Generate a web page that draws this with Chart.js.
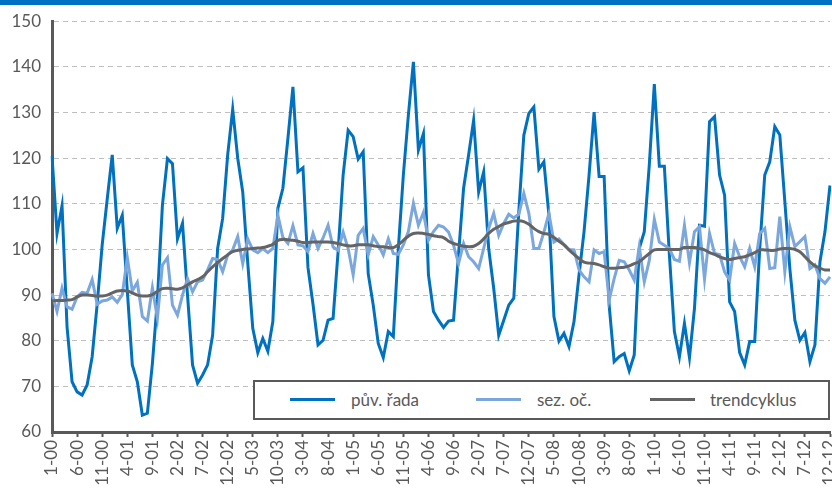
<!DOCTYPE html>
<html>
<head>
<meta charset="utf-8">
<script src="https://cdn.jsdelivr.net/npm/chart.js@4"></script>
<style>
    html, body { margin: 0; padding: 0; background: #fff; overflow: hidden; }
    #wrap { position: relative; width: 832px; height: 491px; }
    #wrap canvas { position: absolute; left: 0; top: 0; }
    #bar { position: absolute; left: 0; top: 0; width: 832px; height: 5px; background: #0070c0; }
    #legend {
        position: absolute; left: 253px; top: 380px; width: 573px; height: 36px;
        border: 2px solid #595959; background: #fff;
        font: 17px Lato, "Open Sans", sans-serif; color: #595959;
    }
    #legend .ln { position: absolute; top: 16px; width: 45px; height: 3px; }
    #legend .tx { position: absolute; top: 0; line-height: 36px; white-space: nowrap; }
</style>
</head>
<body>
<div id="wrap">
    <canvas id="LineChart" width="832" height="491"></canvas>
    <div id="bar"></div>
    <div id="legend">
        <span class="ln" style="left:35px;background:#0070c0"></span>
        <span class="tx" style="left:96px">pův. řada</span>
        <span class="ln" style="left:221px;background:#7ba7dd"></span>
        <span class="tx" style="left:282px">sez. oč.</span>
        <span class="ln" style="left:395px;background:#646464"></span>
        <span class="tx" style="left:455px">trendcyklus</span>
    </div>
</div>
<script>
(function () {
    "use strict";

    // Colors
    const dark_blue = "#0070c0";
    const light_blue = "#7ba7dd";
    const trend_gray = "#646464";
    const axis_gray = "#595959";
    const grid_gray = "#bfbfbf";

    // Categories: months 1-00 .. 12-12
    const years = ["00", "01", "02", "03", "04", "05", "06", "07", "08", "09", "10", "11", "12"];
    const months = [1, 2, 3, 4, 5, 6, 7, 8, 9, 10, 11, 12];
    const categories = [];
    years.forEach(function (y) {
        months.forEach(function (m) {
            categories.push(m + "-" + y);
        });
    });

    const yTicks = [60, 70, 80, 90, 100, 110, 120, 130, 140, 150];

    // pův. řada
    const puvRada = [
        120.5, 103.5, 109.6, 83, 71, 68.8, 68.1, 70.3, 76.5, 88, 101, 111,
        120.7, 104.6, 107.5, 91, 74.7, 71, 63.7, 64.1, 75, 89, 109.7, 119.9,
        118.8, 102.3, 105.7, 90, 74.7, 70.7, 72.5, 74.7, 81.2, 100.2, 106.8, 120.7,
        130.7, 120, 112.6, 97, 82.7, 77.4, 80.5, 77.7, 84.2, 109, 113.4, 124.3,
        135.6, 117, 117.9, 96, 88, 79.1, 80.1, 84.5, 84.9, 99.5, 116.3, 126.1,
        124.7, 119.8, 121.4, 94.7, 87.8, 79.4, 76.3, 82, 80.9, 100.2, 116.3, 129.4,
        141.1, 121.8, 125.4, 94.4, 86.4, 84.5, 82.9, 84.3, 84.5, 99, 113.4, 120.7,
        128.3, 112.6, 117, 100.2, 91.5, 81.2, 84.5, 87.8, 89.3, 108.3, 125, 129.8,
        131.2, 117.6, 119.2, 107.5, 85.3, 79.9, 81.6, 78.7, 84.2, 94.4, 103.9, 116.3,
        130.1, 116, 116, 87.8, 75.4, 76.5, 77.2, 73.4, 76.9, 100.2, 103.9, 118.5,
        136.2, 118.2, 118.2, 98.8, 82, 76.5, 83.8, 76.3, 87.1, 105.3, 105.1, 128,
        129.1, 116.3, 111.9, 88.5, 86.4, 77.4, 74.7, 79.8, 79.8, 100.2, 116.3, 119.2,
        126.9, 125.1, 110.5, 95.8, 84.5, 80.1, 81.8, 75.4, 79.1, 97.3, 103.9, 114
    ];

    // sez. oč.
    const sezOc = [
        90.4, 86.4, 91.5, 87.4, 86.9, 89.6, 90.6, 90.4, 93.4, 88, 88.7, 88.9,
        89.6, 88.4, 90.1, 98.2, 90.9, 92.8, 85.3, 84.3, 91.6, 84.9, 96.6, 98.2,
        87.8, 85.6, 90, 93.6, 90.7, 92.9, 93.3, 95.5, 98, 97.8, 95.1, 98.8,
        99.9, 102.8, 96.9, 102.3, 99.9, 99.3, 100.2, 99.3, 100.2, 107.5, 102.6, 101.3,
        105.2, 101, 100.8, 99.5, 103.5, 100.2, 102.5, 105.3, 100.5, 99.8, 103.8, 100.2,
        94.4, 103.1, 104.6, 98.8, 102.8, 101, 98.8, 102.3, 99.1, 98.9, 101, 103.9,
        110.1, 105.3, 108.1, 102, 103.9, 105.3, 104.9, 103.8, 100.9, 96.9, 101.3, 98.4,
        97.3, 95.8, 100.2, 104.6, 107.9, 103.1, 105.7, 107.7, 106.9, 107.7, 112.3, 107.9,
        100.2, 100.2, 103.8, 107.9, 101.6, 102.3, 101.1, 100, 99.9, 95.5, 94, 92.9,
        99.9, 99.1, 99.5, 88.9, 93.6, 97.6, 97.3, 95.5, 93.3, 100.6, 92.9, 97.6,
        106.6, 101.6, 100.9, 100.2, 97.8, 97.4, 105.3, 97.1, 103.9, 105, 93.5, 103.5,
        99.1, 98.9, 95.1, 93.3, 101.3, 98.4, 96.2, 100.2, 96.2, 103.5, 104.6, 95.8,
        96, 107.2, 95.1, 105, 100.6, 101.7, 102.8, 95.8, 96.6, 93.6, 92.6, 94
    ];

    // trendcyklus
    const trendcyklus = [
        88.7, 88.8, 88.8, 88.9, 89, 89.6, 90, 90, 89.9, 89.8, 89.8, 90,
        90.5, 90.9, 91, 90.9, 90.5, 90, 89.8, 89.8, 90.1, 90.8, 91.4, 91.5,
        91.4, 91.3, 91.6, 92.2, 92.9, 93.4, 94, 95.1, 96.2, 97.1, 98, 98.8,
        99.5, 99.8, 100, 100.1, 100.2, 100.3, 100.4, 100.7, 101.1, 102, 102.2, 102.1,
        102, 101.8, 101.5, 101.5, 101.6, 101.6, 101.6, 101.6, 101.5, 101.3, 101, 100.8,
        100.8, 101, 101, 101, 100.8, 100.6, 100.6, 100.4, 100.4, 101, 102, 102.9,
        103.5, 103.6, 103.5, 103.3, 103, 102.8, 102.6, 101.8, 101.3, 101, 100.7, 100.6,
        100.7, 101.3, 102.3, 103.5, 104.4, 105, 105.6, 105.9, 106.2, 106.3, 106.1, 105.5,
        104.6, 103.9, 103.5, 103.3, 102.6, 101.8, 101, 99.9, 98.9, 98, 97.2, 97,
        96.9, 96.6, 96.2, 95.9, 95.9, 96, 96.1, 96.4, 96.9, 97.3, 98.2, 99.1,
        99.9, 100, 100, 100, 100, 100, 100.4, 100.4, 100.4, 100.2, 99.9, 99.3,
        98.9, 98.4, 98, 97.8, 98, 98.2, 98.4, 98.8, 99.3, 99.9, 99.9, 99.8,
        99.8, 100.1, 100.2, 100.2, 100, 99.5, 98.4, 97.3, 96.4, 95.9, 95.5, 95.5
    ];

    const tickFont = { family: "Lato, 'Open Sans', sans-serif", size: 17 };

    // LINE CHART
    const chart_line = document.getElementById("LineChart");
    if (chart_line != null) {
        const ctl = chart_line.getContext("2d");
        new Chart(ctl, {
            type: "line",
            data: {
                labels: categories,
                datasets: [
                    {
                        label: "pův. řada",
                        data: puvRada,
                        borderColor: dark_blue,
                        borderWidth: 3,
                        pointRadius: 0,
                        tension: 0,
                        order: 3,
                    },
                    {
                        label: "sez. oč.",
                        data: sezOc,
                        borderColor: light_blue,
                        borderWidth: 3,
                        pointRadius: 0,
                        tension: 0,
                        order: 2,
                    },
                    {
                        label: "trendcyklus",
                        data: trendcyklus,
                        borderColor: trend_gray,
                        borderWidth: 3,
                        pointRadius: 0,
                        tension: 0.4,
                        order: 1,
                    },
                ],
            },
            options: {
                responsive: false,
                animation: false,
                devicePixelRatio: 1,
                layout: {
                    padding: { top: 21, right: 2, bottom: 0, left: 0 },
                },
                plugins: {
                    legend: { display: false },
                    tooltip: { enabled: false },
                },
                scales: {
                    x: {
                        type: "category",
                        offset: false,
                        afterBuildTicks: function (scale) {
                            scale.ticks = scale.ticks.filter(function (t) {
                                return t.value % 5 === 0;
                            });
                        },
                        afterFit: function (scale) {
                            scale.height = 59;
                            scale.paddingLeft = 0;
                            scale.paddingRight = 0;
                        },
                        ticks: {
                            autoSkip: false,
                            maxRotation: 90,
                            minRotation: 90,
                            padding: 3,
                            color: axis_gray,
                            font: tickFont,
                        },
                        grid: {
                            display: true,
                            drawOnChartArea: false,
                            drawTicks: true,
                            tickLength: 5,
                            tickWidth: 2,
                            tickColor: axis_gray,
                        },
                        border: {
                            display: true,
                            color: axis_gray,
                            width: 3,
                        },
                    },
                    y: {
                        min: yTicks[0],
                        max: yTicks[yTicks.length - 1],
                        afterFit: function (scale) {
                            scale.width = 52;
                        },
                        afterBuildTicks: function (scale) {
                            scale.ticks = yTicks.map(function (v) {
                                return { value: v };
                            });
                        },
                        ticks: {
                            padding: 11,
                            color: axis_gray,
                            font: tickFont,
                        },
                        grid: {
                            drawTicks: false,
                            lineWidth: 1,
                            color: function (c) {
                                return c.tick && c.tick.value === yTicks[0] ? "rgba(0,0,0,0)" : grid_gray;
                            },
                        },
                        border: {
                            display: true,
                            color: axis_gray,
                            width: 3,
                            dash: [5, 4],
                        },
                    },
                },
            },
        });
    }
})();
</script>
</body>
</html>
